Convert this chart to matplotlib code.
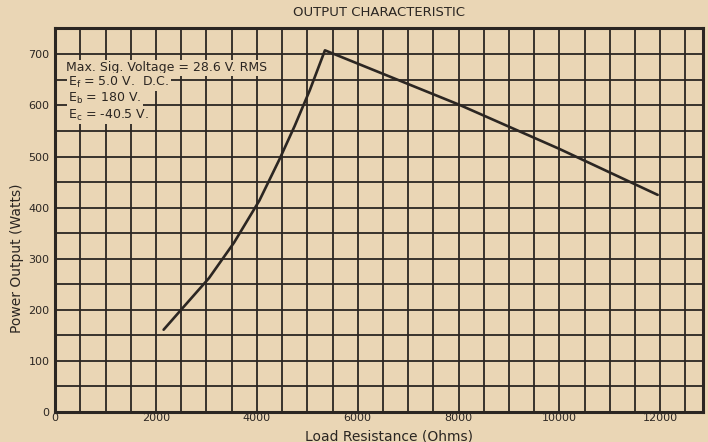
import numpy as np
import matplotlib
matplotlib.use("Agg")
import matplotlib.pyplot as plt

# Load resistance (Ohms) vs power output (Watts)
load_res = [2150, 2550, 3050, 3550, 4050, 4450, 4750, 5050, 5350, 8000, 10000, 11950]
power = [161, 206, 262, 332, 414, 495, 560, 630, 708, 602, 515, 425]

x_ticks = [0, 2000, 4000, 6000, 8000, 10000, 12000]
y_ticks = [0, 100, 200, 300, 400, 500, 600, 700]

notes = ["Max. Sig. Voltage = 28.6 V. RMS",
         "E$_\\mathregular{f}$ = 5.0 V.  D.C.",
         "E$_\\mathregular{b}$ = 180 V.",
         "E$_\\mathregular{c}$ = -40.5 V."]

paper = '#ead6b5'
ink = '#2b2622'

plt.rcParams['font.family'] = ['DejaVu Sans']
fig = plt.figure(figsize=(7.08, 4.42), dpi=100)
fig.patch.set_facecolor(paper)
ax = fig.add_axes([0.078, 0.068, 0.915, 0.869])
ax.set_facecolor(paper)

ax.plot(load_res, power, color=ink, lw=1.9, solid_capstyle='round', zorder=3)

ax.set_xlim(0, 12850)
ax.set_ylim(0, 752)
ax.set_xticks(x_ticks)
ax.set_yticks(y_ticks)
ax.set_xticks(np.arange(0, 12851, 500), minor=True)
ax.set_yticks(np.arange(0, 752, 50), minor=True)
ax.grid(which='both', color=ink, lw=1.3)
ax.set_axisbelow(True)
ax.tick_params(which='both', length=0, colors=ink, labelsize=8)
ax.tick_params(axis='x', pad=1)
ax.tick_params(axis='y', pad=4)
for s in ax.spines.values():
    s.set_color(ink)
    s.set_linewidth(2.2)

# spec notes, on blank paper patches over the grid
ys = [0.896, 0.859, 0.817, 0.773]
for t, y in zip(notes, ys):
    ax.text(0.016 if t.startswith("Max") else 0.02, y, t, transform=ax.transAxes,
            fontsize=9, color=ink, va='center', ha='left', zorder=4,
            bbox=dict(boxstyle='square,pad=0.12', fc=paper, ec='none'))

fig.text(0.536, 0.972, "OUTPUT CHARACTERISTIC", ha='center', va='center',
         fontsize=9.5, color=ink)
fig.text(0.55, 0.013, "Load Resistance (Ohms)", ha='center', va='center',
         fontsize=10, color=ink)
fig.text(0.024, 0.415, "Power Output (Watts)", ha='center', va='center',
         rotation=90, fontsize=10, color=ink)

fig.savefig("out.png", dpi=100, facecolor=paper)
